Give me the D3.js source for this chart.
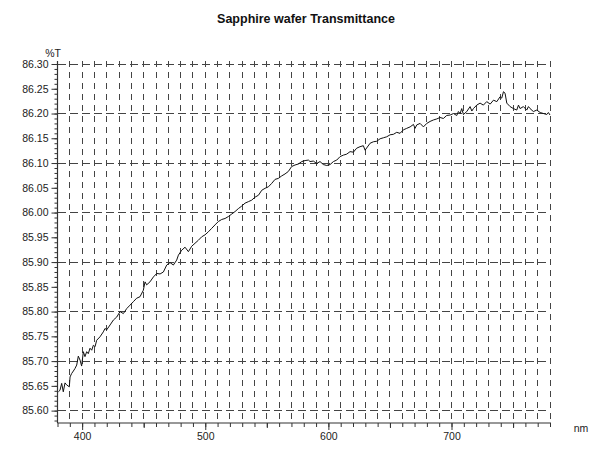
<!DOCTYPE html>
<html>
<head>
<meta charset="utf-8">
<script src="https://cdn.jsdelivr.net/npm/d3@7/dist/d3.min.js"></script>
<style>
  html, body { margin: 0; padding: 0; background: #fff; }
  svg { display: block; font-family: "Liberation Sans", Arial, sans-serif; }
</style>
</head>
<body>
<svg id="chart" width="600" height="451"></svg>
<script>
// ---- data ----
const title = "Sapphire wafer Transmittance";
const yUnit = "%T";
const xUnit = "nm";
const wavelength = [
  380.7,382.0,383.4,384.7,386.1,387.4,389.6,390.2,391.5,392.9,394.2,395.6,396.9,398.3,399.6,
  401.0,402.3,403.7,405.0,406.4,407.8,409.1,410.5,411.8,414.5,417.2,418.6,419.9,422.7,425.4,
  428.1,430.8,433.5,436.2,438.9,441.6,444.3,447.0,449.7,451.1,452.4,455.1,457.9,460.6,463.3,
  466.0,468.7,471.4,474.1,476.8,478.2,480.9,483.6,486.3,489.0,491.7,494.4,497.1,499.8,502.5,
  505.2,507.9,510.7,513.4,516.1,518.8,521.5,524.2,526.9,529.6,532.3,535.0,537.7,540.4,543.2,
  545.9,548.6,551.3,554.0,556.7,559.4,562.1,564.8,567.5,570.2,572.9,575.6,578.4,581.1,583.8,
  585.1,587.8,590.5,593.2,595.9,598.7,601.4,604.1,606.8,609.5,612.2,614.9,617.6,620.3,623.0,
  625.7,628.4,629.8,633.9,636.6,639.3,642.0,644.7,647.4,650.1,652.8,655.5,658.2,660.9,663.6,
  666.4,669.1,670.4,671.8,674.5,677.2,679.9,682.6,685.3,688.0,690.7,693.4,696.1,698.9,701.6,
  704.3,705.6,707.0,708.3,709.7,712.4,715.1,716.5,717.8,720.5,723.2,725.9,728.6,731.4,734.1,
  736.8,739.5,740.8,742.2,743.5,744.9,747.6,750.3,753.0,754.4,755.7,758.4,761.1,762.5,763.8,
  766.5,769.3,772.0,774.7,777.4,778.7,780.0
];
const transmittance = [
  85.638,85.641,85.655,85.638,85.656,85.652,85.648,85.668,85.675,85.680,85.685,85.692,85.710,85.702,85.690,
  85.719,85.709,85.719,85.715,85.726,85.722,85.732,85.729,85.742,85.749,85.759,85.766,85.763,85.773,85.783,
  85.789,85.800,85.796,85.806,85.813,85.820,85.827,85.830,85.843,85.860,85.854,85.860,85.870,85.877,85.876,
  85.880,85.894,85.899,85.894,85.904,85.914,85.924,85.930,85.921,85.932,85.938,85.944,85.951,85.955,85.961,
  85.968,85.975,85.982,85.986,85.988,85.992,85.997,86.002,86.008,86.013,86.019,86.022,86.025,86.031,86.035,
  86.045,86.049,86.052,86.059,86.067,86.069,86.074,86.078,86.083,86.093,86.096,86.098,86.103,86.105,86.106,
  86.103,86.104,86.099,86.103,86.097,86.095,86.097,86.103,86.106,86.113,86.116,86.118,86.123,86.122,86.130,
  86.133,86.135,86.126,86.140,86.143,86.144,86.149,86.151,86.153,86.157,86.158,86.162,86.160,86.167,86.170,
  86.173,86.178,86.170,86.177,86.180,86.173,86.180,86.184,86.187,86.189,86.192,86.190,86.196,86.197,86.200,
  86.196,86.204,86.200,86.210,86.198,86.204,86.214,86.205,86.210,86.217,86.221,86.217,86.224,86.219,86.227,
  86.224,86.234,86.231,86.244,86.241,86.221,86.214,86.210,86.207,86.217,86.210,86.214,86.207,86.214,86.210,
  86.204,86.207,86.202,86.200,86.198,86.202,86.197
];
const xMajorTicks = [400, 500, 600, 700];
const yLabelTicks = [85.60,85.65,85.70,85.75,85.80,85.85,85.90,85.95,86.00,86.05,86.10,86.15,86.20,86.25,86.30];
const yGridTicks = [85.60,85.70,85.80,85.90,86.00,86.10,86.20,86.30];

// ---- layout ----
const svg = d3.select("#chart");
const pL = 57.5, pR = 550, pT = 64, pB = 423;
const x = d3.scaleLinear().domain([380, 780]).range([pL, pR]);
const y = d3.scaleLinear().domain([85.575, 86.30]).range([pB, pT]);
const gridColor = "#444";

// title
svg.append("text").attr("x", 306).attr("y", 23).attr("text-anchor", "middle")
  .attr("font-size", 12.5).attr("font-weight", "bold").attr("fill", "#111").text(title);

// vertical grid every 10 nm
const xGrid = d3.range(39, 79).map(d => d * 10);
svg.append("g").attr("shape-rendering", "crispEdges")
  .selectAll("line").data(xGrid).join("line")
  .attr("x1", d => x(d)).attr("x2", d => x(d))
  .attr("y1", pT - 3).attr("y2", pB)
  .attr("stroke", gridColor).attr("stroke-width", 1)
  .attr("stroke-dasharray", "6,5");

// horizontal grid every 0.1
svg.append("g").attr("shape-rendering", "crispEdges")
  .selectAll("line").data(yGridTicks).join("line")
  .attr("x1", pL).attr("x2", pR)
  .attr("y1", d => y(d)).attr("y2", d => y(d))
  .attr("stroke", gridColor).attr("stroke-width", 1)
  .attr("stroke-dasharray", "8,4");

// y axis: minor ticks 0.01
const yMinor = d3.range(8558, 8631).map(d => d / 100);
const gyMin = svg.append("g").attr("transform", `translate(${pL},0)`)
  .call(d3.axisLeft(y).tickValues(yMinor).tickSize(3).tickFormat(""));
gyMin.select(".domain").remove();
// y axis: labelled ticks 0.05
const gy = svg.append("g").attr("transform", `translate(${pL},0)`)
  .call(d3.axisLeft(y).tickValues(yLabelTicks).tickSize(6).tickSizeOuter(0)
    .tickPadding(3).tickFormat(d3.format(".2f")));
gy.select(".domain").attr("d", `M0,${pT - 3}V${pB}`);

// x axis: minor ticks 10nm
const xMinor = d3.range(38, 79).map(d => d * 10);
const gxMin = svg.append("g").attr("transform", `translate(0,${pB})`)
  .call(d3.axisBottom(x).tickValues(xMinor).tickSize(4).tickFormat(""));
gxMin.select(".domain").remove();
const gxMid = svg.append("g").attr("transform", `translate(0,${pB})`)
  .call(d3.axisBottom(x).tickValues([450, 550, 650, 750]).tickSize(5).tickFormat(""));
gxMid.select(".domain").remove();
const gx = svg.append("g").attr("transform", `translate(0,${pB})`)
  .call(d3.axisBottom(x).tickValues(xMajorTicks).tickSize(7).tickSizeOuter(0)
    .tickPadding(3).tickFormat(d3.format("d")));
gx.select(".domain").attr("d", `M${pL},0H${pR + 1}`);

svg.selectAll(".tick line").attr("stroke", "#333");
svg.selectAll(".domain").attr("stroke", "#333").attr("stroke-width", 1.2);
svg.selectAll(".tick text").attr("font-size", 10.5).attr("fill", "#222")
  .attr("font-family", "'Liberation Sans', Arial, sans-serif");

// unit labels
svg.append("text").attr("x", 53).attr("y", 57).attr("text-anchor", "middle")
  .attr("font-size", 10.5).attr("fill", "#222").text(yUnit);
svg.append("text").attr("x", 581).attr("y", 432).attr("text-anchor", "middle")
  .attr("font-size", 10.5).attr("fill", "#222").text(xUnit);

// curve
const pts = wavelength.map((w, i) => [w, transmittance[i]]);
svg.append("path").datum(pts)
  .attr("fill", "none").attr("stroke", "#111").attr("stroke-width", 1)
  .attr("d", d3.line().x(d => x(d[0])).y(d => y(d[1])));
</script>
</body>
</html>
